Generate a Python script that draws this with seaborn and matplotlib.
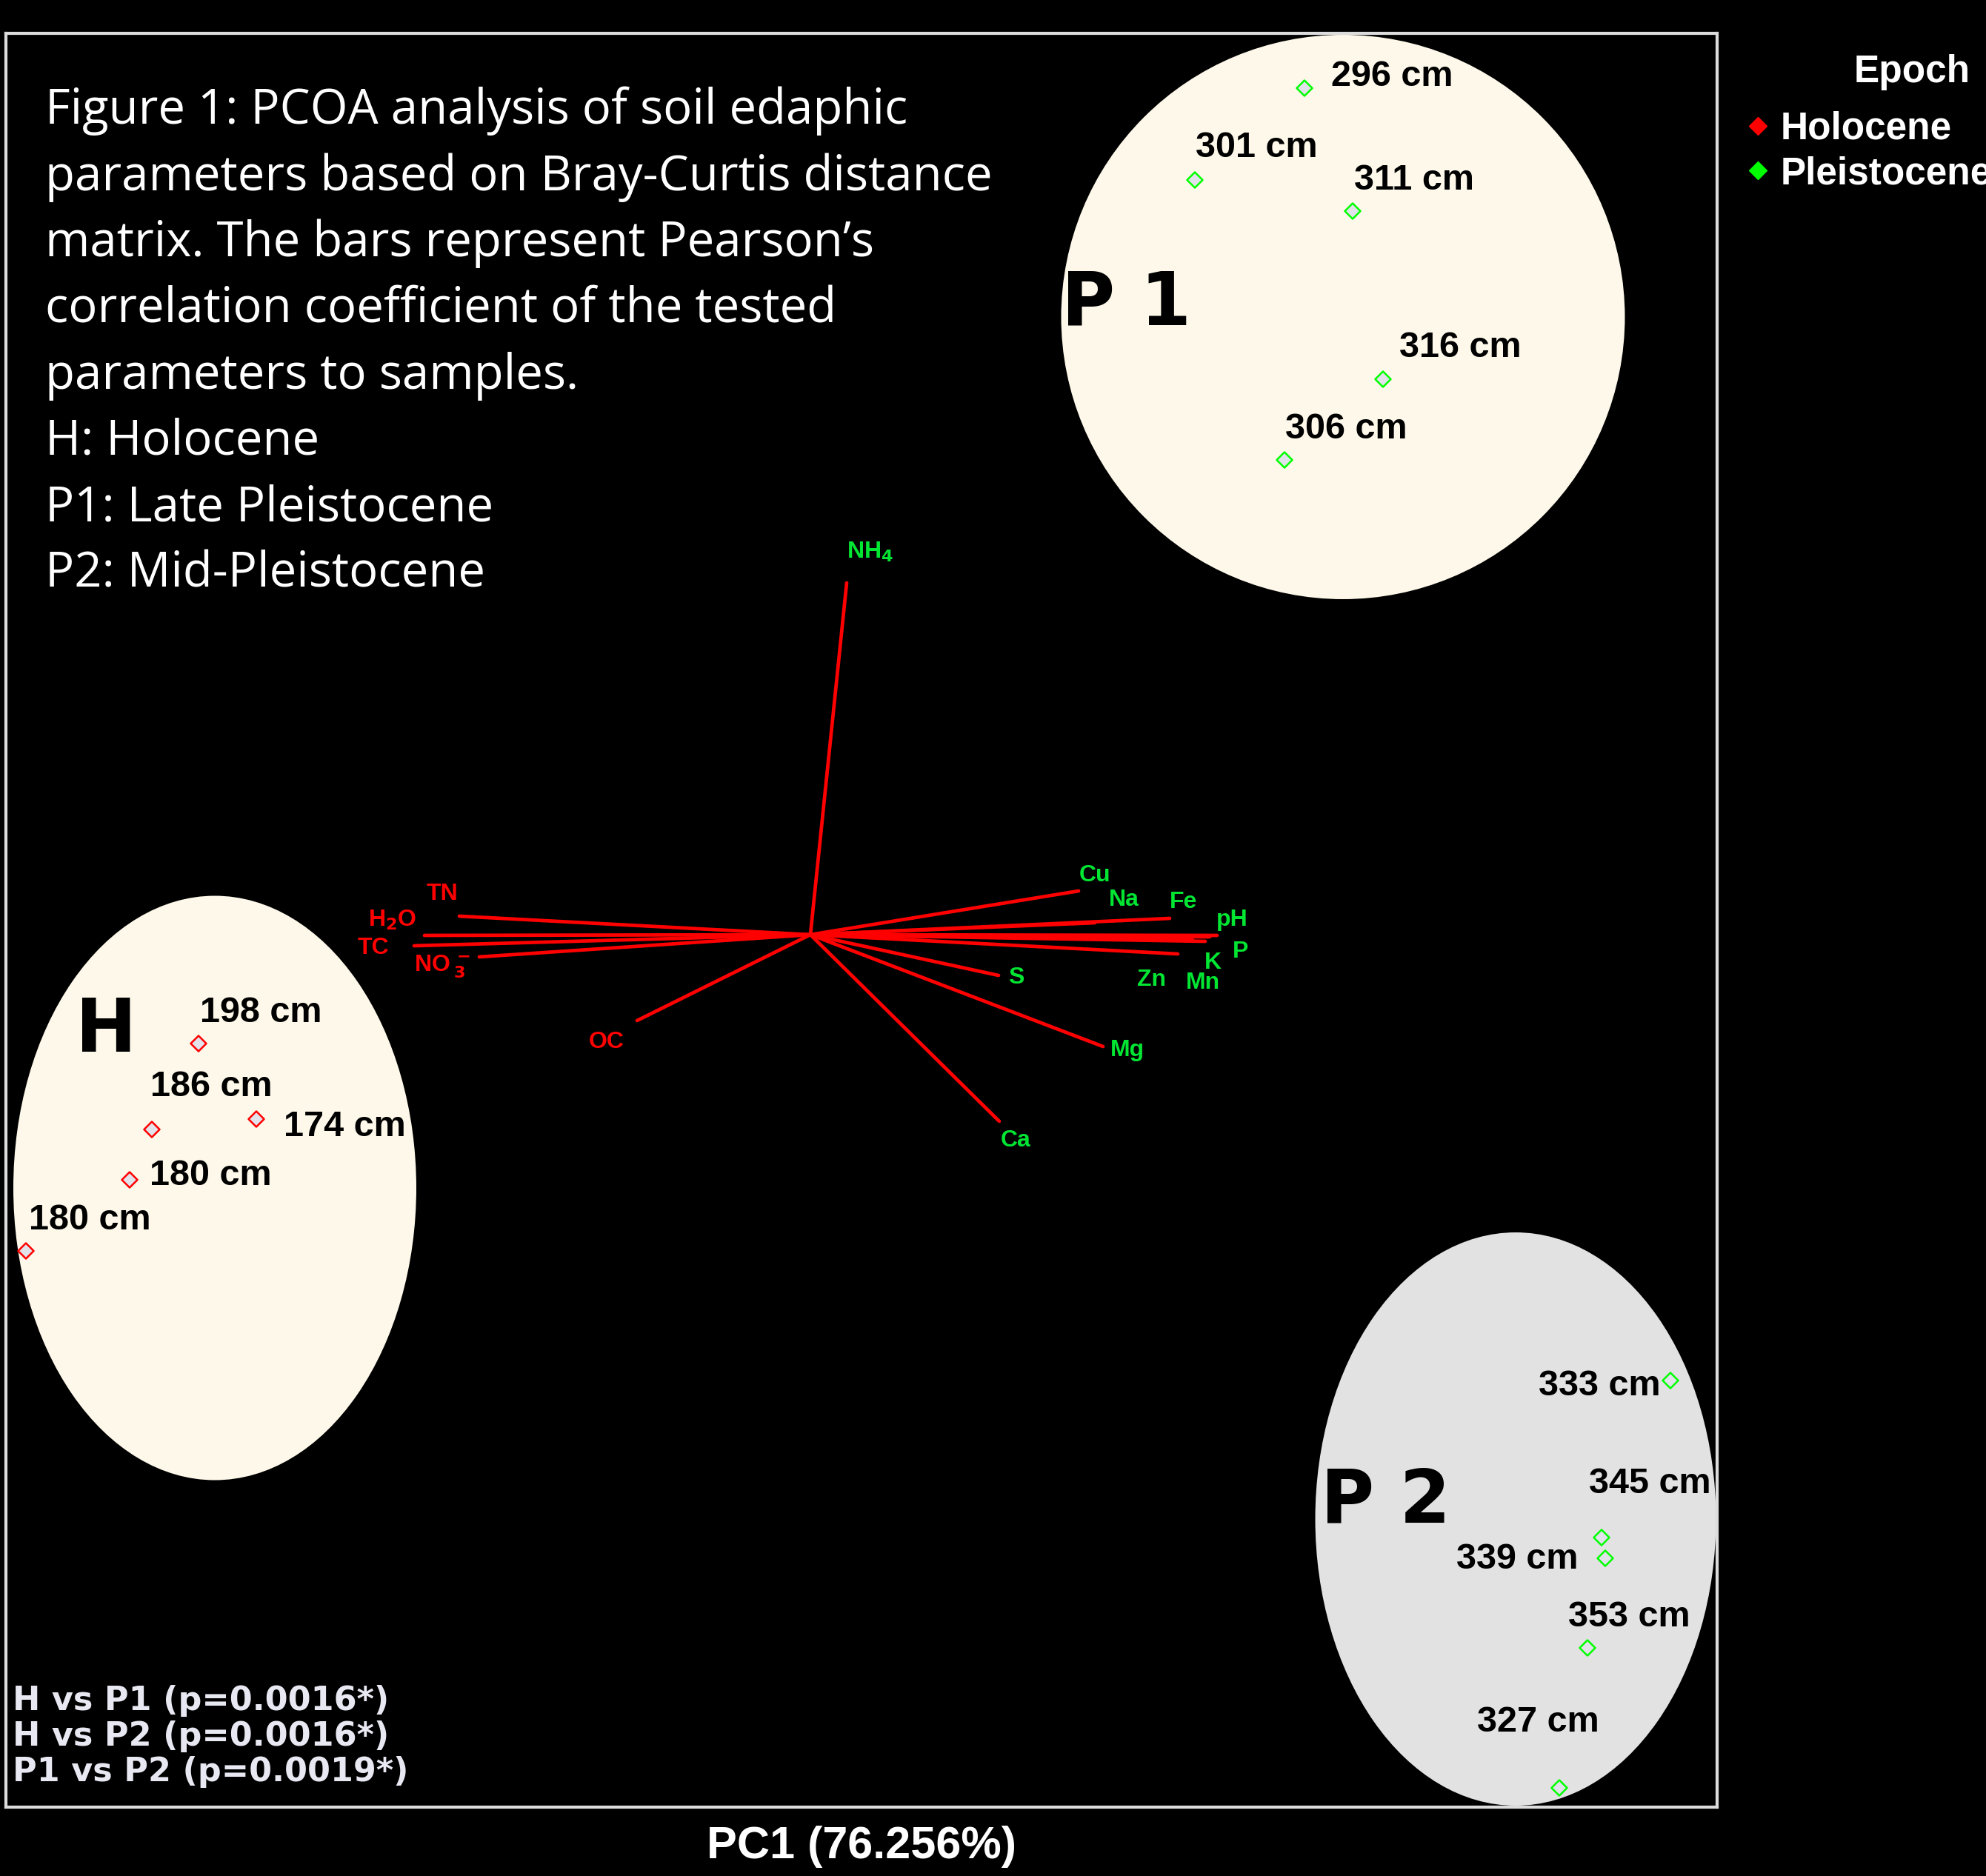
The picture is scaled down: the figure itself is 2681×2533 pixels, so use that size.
import numpy as np
import pandas as pd
import matplotlib
matplotlib.use("Agg")
import matplotlib.pyplot as plt
from matplotlib.patches import Ellipse
from matplotlib.lines import Line2D
import seaborn as sns

DPI = 100
W_PX, H_PX = 2681, 2533

# sample scores (PC1, PC2)
sample_depth = ["198 cm", "186 cm", "174 cm", "180 cm", "180 cm",
                "296 cm", "301 cm", "311 cm", "316 cm", "306 cm",
                "333 cm", "345 cm", "339 cm", "353 cm", "327 cm"]
sample_epoch = ["Holocene"] * 5 + ["Pleistocene"] * 10
sample_pc1 = [-0.413, -0.4445, -0.374, -0.4595, -0.5295,
              0.3335, 0.2595, 0.366, 0.3865, 0.32,
              0.5805, 0.534, 0.5365, 0.5245, 0.5055]
sample_pc2 = [-0.0735, -0.1315, -0.1245, -0.1655, -0.2135,
              0.5715, 0.5095, 0.4885, 0.375, 0.3205,
              -0.301, -0.407, -0.421, -0.4815, -0.576]

# label offsets from each point, in pixels (x right, y up)
label_dx = [2, -2, 37, 27, 4, 36, 1, 2, 22, 1, -178, -17, -201, -26, -111]
label_dy = [42, 57, -11, 5, 42, 15, 43, 42, 43, 41, -8, 73, -2, 41, 89]

# Pearson correlation vectors of the edaphic parameters
param_names = ["NH$_4$", "TN", "H$_2$O", "TC", "NO$\\,_3^-$", "OC",
               "Cu", "Na", "Fe", "pH", "P", "K", "Zn", "Mn", "S", "Mg", "Ca"]
param_x = [0.0245, -0.237, -0.2605, -0.2675, -0.2235, -0.117,
           0.181, 0.192, 0.2425, 0.2745, 0.2695, 0.2665, 0.258, 0.248, 0.127, 0.1975, 0.1275]
param_y = [0.2375, 0.0125, -0.0005, -0.0075, -0.015, -0.058,
           0.0295, 0.008, 0.011, -0.0005, -0.0015, -0.0045, -0.0035, -0.013, -0.0275, -0.0755, -0.126]
param_label_x = [0.0405, -0.2485, -0.282, -0.295, -0.2485, -0.1375,
                 0.192, 0.2115, 0.252, 0.2845, 0.2905, 0.2715, 0.2305, 0.265, 0.139, 0.214, 0.1385]
param_label_y = [0.2585, 0.0275, 0.010, -0.009, -0.0215, -0.0725,
                 0.04, 0.0235, 0.022, 0.01, -0.0115, -0.019, -0.0305, -0.0325, -0.029, -0.078, -0.139]
param_negative = [False, True, True, True, True, True,
                  False, False, False, False, False, False, False, False, False, False, False]

# group ellipses
group_names = ["H", "P 1", "P 2"]
group_cx = [-0.402, 0.3595, 0.476]
group_cy = [-0.171, 0.417, -0.3945]
group_w = [0.272, 0.3805, 0.2705]
group_h = [0.3945, 0.381, 0.387]
group_fill = ["#fdf8e9", "#fdf8e9", "#e3e2e3"]
group_label_x = [-0.496, 0.1695, 0.3445]
group_label_y = [-0.0655, 0.4255, -0.383]

caption_lines = [
    "Figure 1: PCOA analysis of soil edaphic",
    "parameters based on Bray-Curtis distance",
    "matrix. The bars represent Pearson\u2019s",
    "correlation coefficient of the tested",
    "parameters to samples.",
    "H: Holocene",
    "P1: Late Pleistocene",
    "P2: Mid-Pleistocene",
]
pvalue_lines = ["H vs P1 (p=0.0016*)", "H vs P2 (p=0.0016*)", "P1 vs P2 (p=0.0019*)"]

epoch_colors = {"Holocene": "#ff0000", "Pleistocene": "#00ff00"}

sns.set_style("white", {"axes.facecolor": "black", "figure.facecolor": "black"})
plt.rcParams["font.family"] = ["Liberation Sans", "DejaVu Sans"]
plt.rcParams["mathtext.fontset"] = "custom"
plt.rcParams["mathtext.rm"] = "Liberation Sans Narrow:bold"
plt.rcParams["mathtext.default"] = "rm"
narrow = ["Liberation Sans Narrow", "Liberation Sans", "DejaVu Sans"]

fig = plt.figure(figsize=(W_PX / DPI, H_PX / DPI), dpi=DPI)
fig.patch.set_facecolor("black")
ax = fig.add_axes([8 / W_PX, 93 / H_PX, 2310 / W_PX, 2395 / H_PX])
ax.set_facecolor("black")

for cx, cy, w, h, fc in zip(group_cx, group_cy, group_w, group_h, group_fill):
    ax.add_patch(Ellipse((cx, cy), w, h, facecolor=fc, edgecolor="none", zorder=1))

for name, lx, ly in zip(group_names, group_label_x, group_label_y):
    ax.text(lx, ly, name, fontsize=71, fontweight="bold", family="DejaVu Sans",
            color="black", ha="left", va="center", zorder=3)

# correlation bars
for x, y in zip(param_x, param_y):
    ax.plot([0, x], [0, y], color="#ff0000", lw=3.4, solid_capstyle="round", zorder=2)
for name, lx, ly, neg in zip(param_names, param_label_x, param_label_y, param_negative):
    ax.text(lx, ly, name, fontsize=23, fontweight="bold", family=narrow,
            color="#ff0000" if neg else "#00e633", ha="center", va="center", zorder=3)

df = pd.DataFrame({"PC1": sample_pc1, "PC2": sample_pc2,
                   "Epoch": sample_epoch, "Depth": sample_depth})
sns.scatterplot(data=df, x="PC1", y="PC2", hue="Epoch", palette=epoch_colors,
                marker="D", s=115, linewidth=1.8, legend=False, ax=ax, zorder=4)
pts = ax.collections[-1]
pts.set_edgecolors(pts.get_facecolors())
pts.set_facecolors("#e2e2ea")

px2pt = 72 / DPI
for x, y, lab, dx, dy in zip(sample_pc1, sample_pc2, sample_depth, label_dx, label_dy):
    ax.annotate(lab, (x, y), xytext=(dx * px2pt, dy * px2pt), textcoords="offset points",
                fontsize=35, fontweight="bold", color="black", ha="left", va="center", zorder=5)

ax.set_xlim(-0.543, 0.612)
ax.set_ylim(-0.589, 0.6085)
ax.set_xticks([])
ax.set_yticks([])
ax.set_ylabel("")
ax.set_xlabel("PC1 (76.256%)", fontsize=44, fontweight="bold", family=narrow,
              color="white", labelpad=18)
for sp in ax.spines.values():
    sp.set_visible(True)
    sp.set_color("#dcdcdc")
    sp.set_linewidth(3)

for i, line in enumerate(caption_lines):
    fig.text(61 / W_PX, 1 - (150 + i * 89.4) / H_PX, line, fontsize=47,
             family=["Open Sans", "DejaVu Sans"], color="white", ha="left", va="center")

for i, line in enumerate(pvalue_lines):
    fig.text(17 / W_PX, 1 - (2297 + i * 48) / H_PX, line, fontsize=32,
             fontweight="bold", family="DejaVu Sans", color="#e8e8f2",
             ha="left", va="center")

# legend
fig.text(2503 / W_PX, 1 - 98 / H_PX, "Epoch", fontsize=37, fontweight="bold",
         color="white", ha="left", va="center")
handles = [Line2D([], [], marker="D", ls="", color=c, markersize=12)
           for c in epoch_colors.values()]
fig.legend(handles, list(epoch_colors.keys()), loc="upper left",
           bbox_to_anchor=(2358 / W_PX, 1 - 150 / H_PX), frameon=False,
           prop={"weight": "bold", "size": 37}, labelcolor="white",
           handlelength=0.6, handletextpad=0.28, labelspacing=0.22, borderpad=0,
           borderaxespad=0)

fig.savefig("out.png", dpi=DPI, facecolor="black")
